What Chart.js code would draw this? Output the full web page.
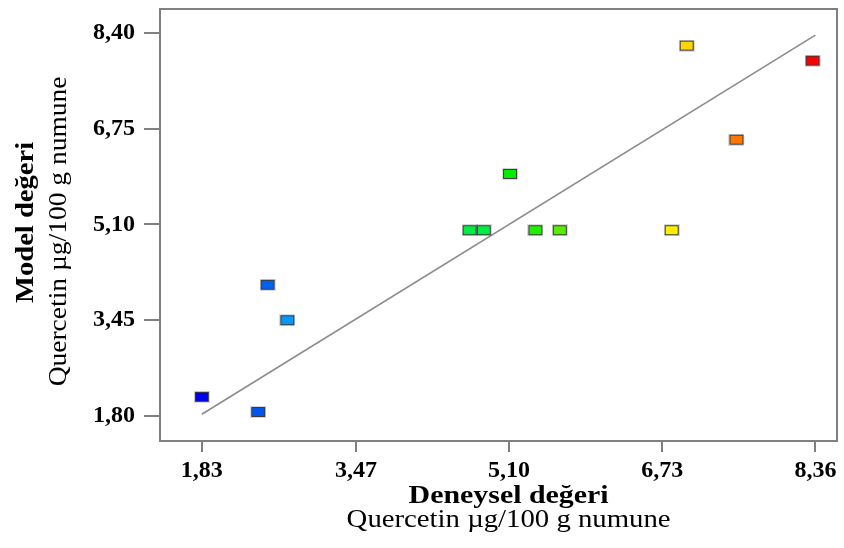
<!DOCTYPE html>
<html>
<head>
<meta charset="utf-8">
<script src="https://cdn.jsdelivr.net/npm/chart.js@4.4.0/dist/chart.umd.min.js"></script>
<style>
  html, body { margin: 0; padding: 0; background: #fff; }
</style>
</head>
<body>
<canvas id="myChart" width="844" height="548"></canvas>
<script>
// measured (x) vs model (y) quercetin values
const deneysel = [1.83, 2.43, 2.53, 2.74, 4.68, 4.83, 5.11, 5.38, 5.64, 6.83, 6.99, 7.52, 8.33];
const model    = [2.13, 1.87, 4.06, 3.45, 5.00, 5.00, 5.97, 5.00, 5.00, 5.00, 8.18, 6.56, 7.92];
const pointColors = ['#0000ee', '#0055ee', '#0060ee', '#0099ff', '#00ee44', '#00ee44', '#00ee00',
  '#22ee00', '#55ee00', '#ffee00', '#ffd400', '#ff7700', '#ff0000'];
const fitLine = [1.83, 8.36];
const xTicks = [1.83, 3.47, 5.10, 6.73, 8.36];
const yTicks = [1.80, 3.45, 5.10, 6.75, 8.40];

const serif = '"Liberation Serif", serif';

function makeMarker(color) {
  const c = document.createElement('canvas');
  c.width = 16;
  c.height = 12;
  const ctx = c.getContext('2d');
  ctx.fillStyle = 'rgba(0,0,0,0.15)';
  ctx.fillRect(0, 0, 16, 12);
  ctx.fillStyle = color;
  ctx.fillRect(1, 1, 14, 10);
  ctx.strokeStyle = '#3a3a3a';
  ctx.lineWidth = 1;
  ctx.strokeRect(1.5, 1.5, 13, 9);
  return c;
}

function fmt(v) {
  return Number(v).toFixed(2).replace('.', ',');
}

function wideText(ctx, text, x, y, sx) {
  ctx.save();
  ctx.translate(x, y);
  ctx.scale(sx, 1);
  ctx.fillText(text, 0, 0);
  ctx.restore();
}

const frameAndTitles = {
  id: 'frameAndTitles',
  afterDraw(chart) {
    const ctx = chart.ctx;
    const a = chart.chartArea;
    const xs = chart.scales.x;
    const ys = chart.scales.y;
    ctx.save();
    ctx.strokeStyle = '#808080';
    ctx.lineWidth = 2;
    ctx.strokeRect(a.left, a.top, a.right - a.left, a.bottom - a.top);

    ctx.fillStyle = '#000';
    ctx.textAlign = 'center';
    ctx.textBaseline = 'alphabetic';
    const cx = xs.getPixelForValue((xTicks[0] + xTicks[4]) / 2);
    ctx.font = 'bold 26px ' + serif;
    wideText(ctx, 'Deneysel değeri', cx, 503, 1.15);
    ctx.font = '25px ' + serif;
    wideText(ctx, 'Quercetin µg/100 g numune', cx, 527, 1.15);

    const cy = ys.getPixelForValue((yTicks[0] + yTicks[4]) / 2);
    ctx.translate(33, cy - 2);
    ctx.rotate(-Math.PI / 2);
    ctx.font = 'bold 26px ' + serif;
    wideText(ctx, 'Model değeri', 0, 0, 1.1);
    ctx.font = '25px ' + serif;
    wideText(ctx, 'Quercetin µg/100 g numune', -9, 33, 1.1);
    ctx.restore();
  }
};

function drawChart() {
  new Chart(document.getElementById('myChart'), {
    type: 'scatter',
    data: {
      datasets: [
        {
          label: 'Deney',
          data: deneysel.map((x, i) => ({ x: x, y: model[i] })),
          pointStyle: pointColors.map(makeMarker),
          pointRadius: 6,
          order: 1
        },
        {
          type: 'line',
          label: 'fit',
          data: fitLine.map(v => ({ x: v, y: v })),
          borderColor: '#8c8c8c',
          borderWidth: 1.6,
          pointRadius: 0,
          fill: false,
          order: 2
        }
      ]
    },
    options: {
      responsive: false,
      animation: false,
      devicePixelRatio: 1,
      layout: { padding: { top: 9, right: 6, left: 0, bottom: 0 } },
      plugins: {
        legend: { display: false },
        tooltip: { enabled: false }
      },
      scales: {
        x: {
          type: 'linear',
          min: 1.385,
          max: 8.59,
          afterBuildTicks: axis => { axis.ticks = xTicks.map(v => ({ value: v })); },
          afterFit: scale => {
            scale.height = 107;
            scale.paddingLeft = 0;
            scale.paddingRight = 0;
          },
          border: { display: false },
          grid: { drawOnChartArea: false, tickLength: 11, color: '#808080', lineWidth: 2 },
          ticks: {
            callback: fmt,
            color: '#000',
            padding: 4,
            maxRotation: 0,
            font: { family: serif, size: 24, weight: 'bold' }
          }
        },
        y: {
          min: 1.37,
          max: 8.81,
          afterBuildTicks: axis => { axis.ticks = yTicks.map(v => ({ value: v })); },
          afterFit: scale => {
            scale.width = 160;
            scale.paddingTop = 0;
            scale.paddingBottom = 0;
          },
          border: { display: false },
          grid: { drawOnChartArea: false, tickLength: 16, color: '#808080', lineWidth: 2 },
          ticks: {
            callback: fmt,
            color: '#000',
            padding: 9,
            font: { family: serif, size: 24, weight: 'bold' }
          }
        }
      }
    },
    plugins: [frameAndTitles]
  });
}

Promise.all([
  document.fonts.load('bold 24px "Liberation Serif"'),
  document.fonts.load('25px "Liberation Serif"')
]).then(drawChart, drawChart);
</script>
</body>
</html>
